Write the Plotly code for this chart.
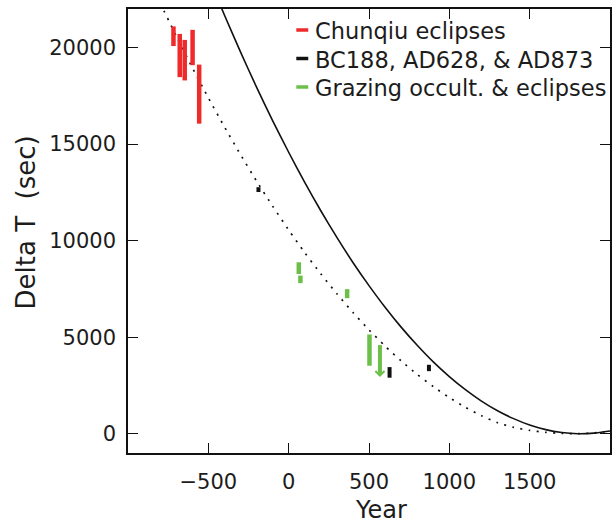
import plotly.graph_objects as go

# ---------------- data ----------------
# solid model curve
solid_years = [-500, -400, -300, -200, -100, 0, 100, 200, 300, 400, 500, 600, 700,
               800, 900, 1000, 1100, 1200, 1300, 1400, 1500, 1600, 1700, 1800, 1900, 2000]
solid_dt = [23680, 21690, 19780, 17950, 16220, 14580, 13020, 11550, 10170, 8870, 7670,
            6550, 5520, 4580, 3720, 2960, 2280, 1690, 1190, 780, 450, 210, 60, 0, 30, 140]

# dotted model curve
dotted_years = [-800, -700, -600, -500, -400, -300, -200, -100, 0, 100, 200, 300, 400,
                500, 600, 700, 800, 900, 1000, 1100, 1200, 1300, 1400, 1500, 1600,
                1700, 1800, 1900, 2000]
dotted_dt = [22310, 20610, 18970, 17400, 15900, 14460, 13090, 11790, 10550, 9380, 8280,
             7250, 6280, 5380, 4540, 3770, 3070, 2440, 1870, 1370, 930, 570, 330, 170,
             70, 15, 0, 40, 130]

# Chunqiu eclipses (ranges)
chunqiu_years = [-717, -678, -647, -598, -557]
chunqiu_lo = [20080, 18470, 18300, 19090, 16060]
chunqiu_hi = [21100, 20710, 20400, 20920, 19120]

# BC188, AD628, AD873
hist_years = [-188, 628, 873]
hist_lo = [12520, 2900, 3240]
hist_hi = [12770, 3450, 3570]

# Grazing occultations & eclipses
graze_years = [63, 73, 364, 503]
graze_lo = [8270, 7800, 7020, 3520]
graze_hi = [8880, 8190, 7490, 5140]
# upper-limit style point drawn with an arrow
arrow_year = [568]
arrow_hi = [4590]
arrow_lo = [2940]

legend_names = ["Chunqiu eclipses", "BC188, AD628, & AD873", "Grazing occult. & eclipses"]
x_ticks = [-500, 0, 500, 1000, 1500]
x_ticktext = ["\u2212500", "0", "500", "1000", "1500"]
y_ticks = [0, 5000, 10000, 15000, 20000]
y_ticktext = ["0", "5000", "10000", "15000", "20000"]

RED = "#ee2a2a"
BLACK = "#111111"
GREEN = "#6cc04a"
FONT = "DejaVu Sans"
TXT = "#1c1c1c"

# figure geometry (pixels)
W, H = 613, 526
ML, MR, MT, MB = 128, 1, 9, 73
PW, PH = W - ML - MR, H - MT - MB


def px_x(px):
    return (px - ML) / PW


def px_y(py):
    return (H - MB - py) / PH


def seg(xs, lo, hi):
    X, Y = [], []
    for x, a, b in zip(xs, lo, hi):
        X += [x, x, None]
        Y += [a, b, None]
    return X, Y


fig = go.Figure()

fig.add_trace(go.Scatter(x=dotted_years, y=dotted_dt, mode="lines",
                         line=dict(color=BLACK, width=1.7, dash="2px,6.3px", shape="spline", smoothing=0.6),
                         showlegend=False, hoverinfo="skip"))
fig.add_trace(go.Scatter(x=solid_years, y=solid_dt, mode="lines",
                         line=dict(color=BLACK, width=1.6, shape="spline", smoothing=0.6),
                         showlegend=False, hoverinfo="skip"))

for xs, lo, hi, col, w in [(chunqiu_years, chunqiu_lo, chunqiu_hi, RED, 4.5),
                           (hist_years, hist_lo, hist_hi, BLACK, 4),
                           (graze_years, graze_lo, graze_hi, GREEN, 4.5)]:
    X, Y = seg(xs, lo, hi)
    fig.add_trace(go.Scatter(x=X, y=Y, mode="lines", line=dict(color=col, width=w),
                             showlegend=False, hoverinfo="skip"))

# arrow bar (thick part), arrow head as annotation
ax_X, ax_Y = seg(arrow_year, [arrow_lo[0] + 200], arrow_hi)
fig.add_trace(go.Scatter(x=ax_X, y=ax_Y, mode="lines", line=dict(color=GREEN, width=4),
                         showlegend=False, hoverinfo="skip"))
fig.add_annotation(x=arrow_year[0], y=arrow_lo[0], ax=arrow_year[0], ay=arrow_lo[0] + 700,
                   xref="x", yref="y", axref="x", ayref="y", showarrow=True,
                   arrowhead=4, arrowsize=1.1, arrowwidth=1.6, arrowcolor=GREEN, text="",
                   standoff=0)

# legend (key dashes + text) drawn in the upper right
legend_rows_py = [30, 58.5, 87]
for name, col, py in zip(legend_names, [RED, BLACK, GREEN], legend_rows_py):
    fig.add_shape(type="line", xref="paper", yref="paper",
                  x0=px_x(297), x1=px_x(309), y0=px_y(py), y1=px_y(py),
                  line=dict(color=col, width=3.5))
    fig.add_annotation(text=name, xref="paper", yref="paper", x=px_x(314), y=px_y(py + 1),
                       xanchor="left", yanchor="middle", showarrow=False,
                       font=dict(family=FONT, size=22.5, color=TXT))

axis_common = dict(showline=True, linecolor=BLACK, linewidth=1.5, mirror="ticks",
                   ticks="inside", ticklen=10, tickwidth=1.2, tickcolor=BLACK,
                   showgrid=False, zeroline=False,
                   tickfont=dict(family=FONT, size=21, color=TXT))

fig.update_xaxes(range=[-1000, 2000], tickvals=x_ticks, ticktext=x_ticktext,
                 ticklabelstandoff=9, **axis_common)
fig.update_yaxes(range=[-1000, 22000], tickvals=y_ticks, ticktext=y_ticktext,
                 ticklabelstandoff=6, **axis_common)

# axis titles
fig.add_annotation(text="Year", xref="paper", yref="paper",
                   x=px_x(382.5), y=px_y(510), xanchor="center", yanchor="middle",
                   showarrow=False, font=dict(family=FONT, size=24, color=TXT))
fig.add_annotation(text="Delta T  (sec)", textangle=-90, xref="paper", yref="paper",
                   x=px_x(26), y=px_y(222), xanchor="center", yanchor="middle", showarrow=False,
                   font=dict(family=FONT, size=26, color=TXT))

fig.update_layout(
    width=W, height=H, autosize=False,
    margin=dict(l=ML, r=MR, t=MT, b=MB),
    paper_bgcolor="white", plot_bgcolor="white",
    showlegend=False,
)

fig.write_html("out.html")
